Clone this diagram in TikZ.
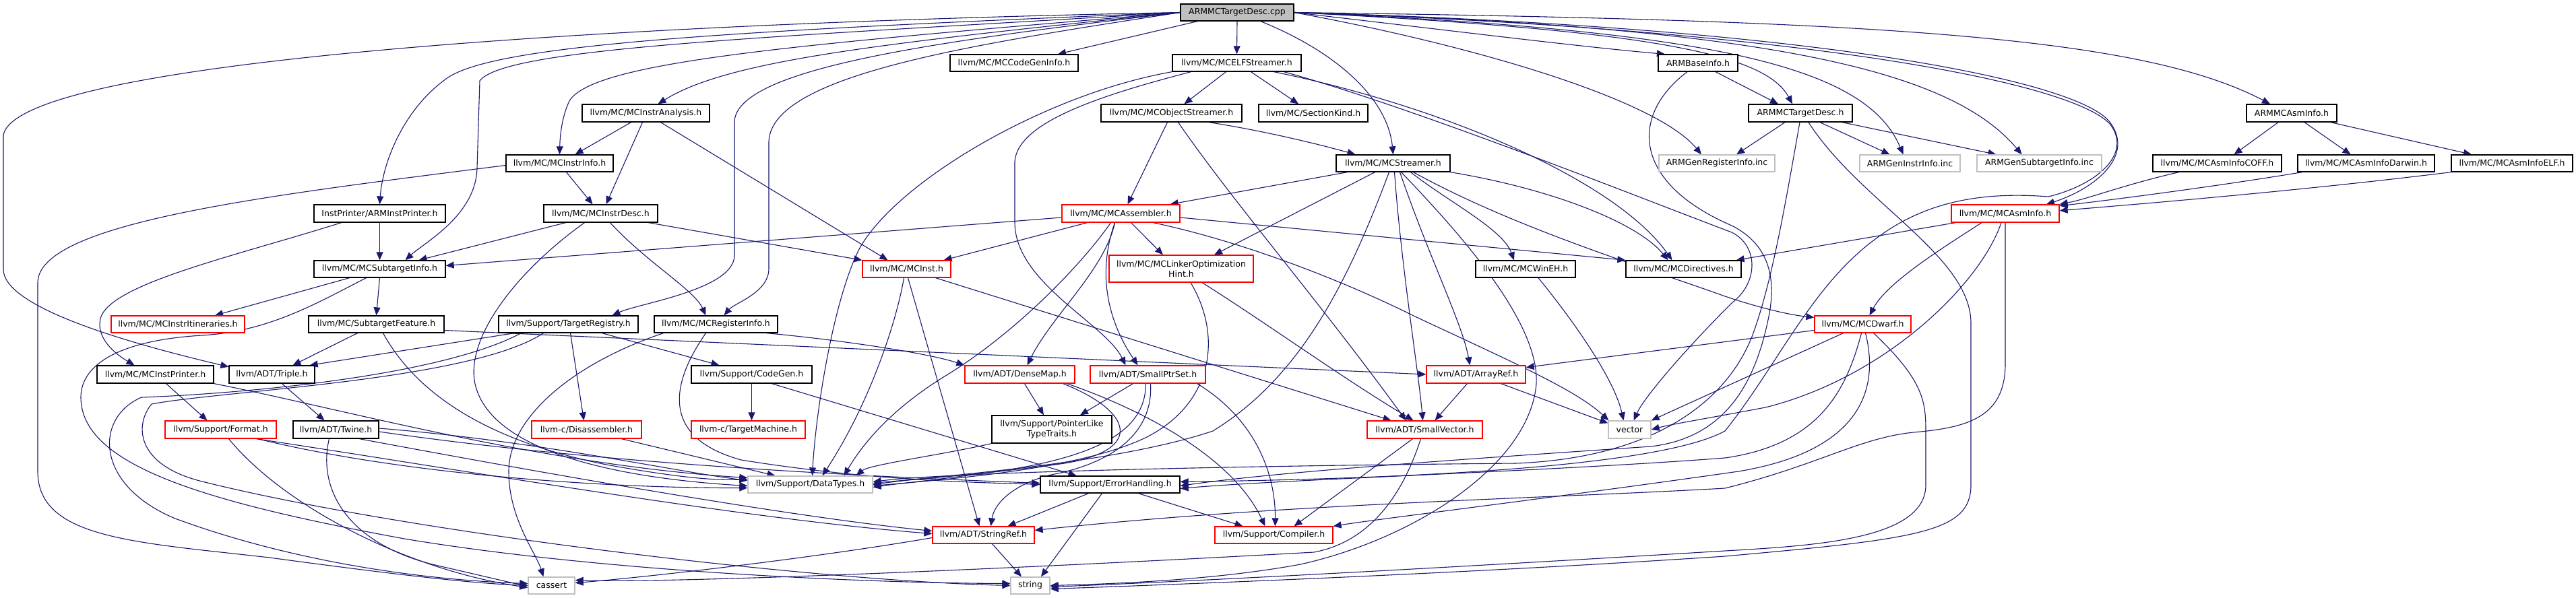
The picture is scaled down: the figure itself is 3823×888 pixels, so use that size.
\documentclass[tikz,border=0pt]{standalone}
\usepackage{fontspec}
\setmainfont{DejaVu Sans}
\usetikzlibrary{arrows.meta}
\definecolor{ec}{HTML}{191970}
\definecolor{gr}{HTML}{BFBFBF}
\definecolor{rd}{HTML}{FF0000}
\newcommand\fnt{\fontsize{12.5}{15}\selectfont}
\newcommand\bx[7]{\node[#1,minimum width={#4-#3},minimum height={#6-#5}] (#2) at ({(#3+#4)/2},{(#5+#6)/2}) {#7};}
\pgfdeclarelayer{bg}
\pgfsetlayers{bg,main}
\begin{document}
\begin{tikzpicture}[x=1pt,y=-1pt,
  nb/.style={draw=black,line width=1.3pt,fill=white,inner sep=0pt,font=\fnt,align=center},
  nr/.style={nb,draw=rd},
  ng/.style={nb,draw=gr},
  edg/.style={draw=ec,line width=1.1pt,-{Triangle[length=12pt,width=10pt]}}]
\useasboundingbox (0,0) rectangle (3823,888);
% nodes
\bx{nb,fill=gr}{cpp}{1752}{1920}{6}{31}{ARMMCTargetDesc.cpp}
\bx{nb}{codegeninfo}{1410}{1600}{81}{106}{llvm/MC/MCCodeGenInfo.h}
\bx{nb}{elfstreamer}{1740}{1931}{81}{106}{llvm/MC/MCELFStreamer.h}
\bx{nb}{armbaseinfo}{2461}{2579}{81}{106}{ARMBaseInfo.h}
\bx{nb}{instranalysis}{864}{1053}{155}{181}{llvm/MC/MCInstrAnalysis.h}
\bx{nb}{objstreamer}{1634}{1843}{155}{181}{llvm/MC/MCObjectStreamer.h}
\bx{nb}{sectionkind}{1868}{2030}{155}{181}{llvm/MC/SectionKind.h}
\bx{nb}{armtargetdesch}{2595}{2749}{155}{181}{ARMMCTargetDesc.h}
\bx{nb}{armasminfo}{3334}{3468}{155}{181}{ARMMCAsmInfo.h}
\bx{nb}{instrinfo}{751}{910}{230}{255}{llvm/MC/MCInstrInfo.h}
\bx{nb}{streamer}{1983}{2152}{230}{255}{llvm/MC/MCStreamer.h}
\bx{ng}{genreg}{2462}{2634}{230}{255}{ARMGenRegisterInfo.inc}
\bx{ng}{geninstr}{2760}{2909}{230}{255}{ARMGenInstrInfo.inc}
\bx{ng}{gensub}{2934}{3119}{230}{255}{ARMGenSubtargetInfo.inc}
\bx{nb}{coff}{3195}{3386}{230}{255}{llvm/MC/MCAsmInfoCOFF.h}
\bx{nb}{darwin}{3410}{3613}{230}{255}{llvm/MC/MCAsmInfoDarwin.h}
\bx{nb}{elf}{3638}{3818}{230}{255}{llvm/MC/MCAsmInfoELF.h}
\bx{nb}{armprinter}{466}{661}{304}{330}{InstPrinter/ARMInstPrinter.h}
\bx{nb}{instrdesc}{807}{976}{304}{330}{llvm/MC/MCInstrDesc.h}
\bx{nr}{assembler}{1576}{1751}{304}{330}{llvm/MC/MCAssembler.h}
\bx{nr}{asminfo}{2896}{3056}{304}{330}{llvm/MC/MCAsmInfo.h}
\bx{nb}{subtarget}{466}{661}{387}{412}{llvm/MC/MCSubtargetInfo.h}
\bx{nr}{inst}{1280}{1411}{387}{412}{llvm/MC/MCInst.h}
\bx{nr}{loh}{1646}{1860}{379}{419}{llvm/MC/MCLinkerOptimization\\Hint.h}
\bx{nb}{wineh}{2190}{2338}{387}{412}{llvm/MC/MCWinEH.h}
\bx{nb}{directives}{2413}{2584}{387}{412}{llvm/MC/MCDirectives.h}
\bx{nr}{itin}{165}{363}{469}{494}{llvm/MC/MCInstrItineraries.h}
\bx{nb}{subfeat}{458}{659}{469}{494}{llvm/MC/SubtargetFeature.h}
\bx{nb}{targetreg}{740}{947}{469}{494}{llvm/Support/TargetRegistry.h}
\bx{nb}{reginfo}{971}{1154}{469}{494}{llvm/MC/MCRegisterInfo.h}
\bx{nr}{dwarf}{2693}{2836}{469}{494}{llvm/MC/MCDwarf.h}
\bx{nb}{instprinter}{144}{317}{543}{569}{llvm/MC/MCInstPrinter.h}
\bx{nb}{triple}{340}{467}{543}{569}{llvm/ADT/Triple.h}
\bx{nb}{codegen}{1026}{1205}{543}{569}{llvm/Support/CodeGen.h}
\bx{nr}{densemap}{1432}{1595}{543}{569}{llvm/ADT/DenseMap.h}
\bx{nr}{smallptrset}{1618}{1789}{543}{569}{llvm/ADT/SmallPtrSet.h}
\bx{nr}{arrayref}{2117}{2264}{543}{569}{llvm/ADT/ArrayRef.h}
\bx{nr}{format}{245}{410}{625}{651}{llvm/Support/Format.h}
\bx{nb}{twine}{435}{562}{625}{651}{llvm/ADT/Twine.h}
\bx{nr}{disasm}{789}{952}{625}{651}{llvm-c/Disassembler.h}
\bx{nr}{targetmachine}{1026}{1195}{625}{651}{llvm-c/TargetMachine.h}
\bx{nb}{ptrlike}{1472}{1650}{617}{658}{llvm/Support/PointerLike\\TypeTraits.h}
\bx{nr}{smallvector}{2029}{2200}{625}{651}{llvm/ADT/SmallVector.h}
\bx{ng}{vector}{2387}{2450}{625}{651}{vector}
\bx{ng}{datatypes}{1110}{1295}{707}{732}{llvm/Support/DataTypes.h}
\bx{nb}{errorhandling}{1544}{1751}{707}{732}{llvm/Support/ErrorHandling.h}
\bx{nr}{stringref}{1384}{1535}{782}{807}{llvm/ADT/StringRef.h}
\bx{nr}{compiler}{1803}{1978}{782}{807}{llvm/Support/Compiler.h}
\bx{ng}{cassert}{784}{853}{857}{882}{cassert}
\bx{ng}{string}{1500}{1558}{857}{882}{string}
\begin{pgfonlayer}{bg}
\fill[white] (0,0) rectangle (3823,888);
% cpp
\draw[edg] (cpp.west) .. controls (900,35) and (30,90) .. (5,200) -- (5,400) .. controls (5,450) and (150,500) .. (triple.170);
\draw[edg] (cpp.west) .. controls (1100,45) and (740,65) .. (665,115) .. controls (600,160) and (568,240) .. (armprinter.north);
\draw[edg] (cpp.west) .. controls (1150,55) and (750,70) .. (712,120) -- (708,250) .. controls (706,320) and (630,360) .. ([xshift=38pt]subtarget.north);
\draw[edg] (cpp.west) .. controls (1200,65) and (880,90) .. (845,150) .. controls (833,175) and (831,205) .. (instrinfo.north);
\draw[edg] (cpp.west) .. controls (1300,65) and (1080,90) .. ([xshift=18pt]instranalysis.north);
\draw[edg] (cpp.west) .. controls (1400,60) and (1095,100) .. (1090,180) -- (1090,380) .. controls (1088,430) and (950,450) .. ([xshift=65pt]targetreg.north);
\draw[edg] (cpp.west) .. controls (1450,65) and (1145,110) .. (1141,210) -- (1141,400) .. controls (1140,435) and (1090,450) .. ([xshift=12pt]reginfo.north);
\draw[edg] ([xshift=-59pt]cpp.south) -- ([xshift=65pt]codegeninfo.north);
\draw[edg] (cpp.south) -- (elfstreamer.north);
\draw[edg] ([xshift=35pt]cpp.south) .. controls (1990,80) and (2060,150) .. (streamer.north);
\draw[edg] (cpp.east) .. controls (2150,45) and (2350,70) .. (armbaseinfo.165);
\draw[edg] (cpp.east) .. controls (2200,70) and (2460,150) .. ([xshift=-23pt]genreg.north);
\draw[edg] (cpp.east) .. controls (2450,45) and (2620,80) .. ([xshift=-12pt]armtargetdesch.north);
\draw[edg] (cpp.east) .. controls (2550,45) and (2770,100) .. ([xshift=-10pt]geninstr.north);
\draw[edg] (cpp.east) .. controls (2650,40) and (2900,110) .. ([xshift=-26pt]gensub.north);
\draw[edg] (cpp.east) .. controls (2800,30) and (3180,55) .. ([xshift=-32pt]armasminfo.north);
\draw[edg] (cpp.east) .. controls (2700,40) and (3080,120) .. (3130,180) .. controls (3170,230) and (3110,280) .. ([xshift=61pt]asminfo.north);
\draw[edg] (cpp.east) .. controls (2700,45) and (3080,125) .. (3132,185) .. controls (3165,230) and (3110,275) .. (3040,292) .. controls (2960,286) and (2870,292) .. (2790,350) .. controls (2690,420) and (2640,540) .. (2560,640) .. controls (2450,700) and (2000,712) .. ([yshift=4pt]errorhandling.east);
% ARMBaseInfo
\draw[edg] ([xshift=26pt]armbaseinfo.south) -- ([xshift=-33pt]armtargetdesch.north);
\draw[edg] ([xshift=-16pt]armbaseinfo.south) .. controls (2420,170) and (2420,270) .. (2570,335) .. controls (2630,365) and (2635,420) .. (2625,470) .. controls (2605,570) and (2560,650) .. (2450,663) .. controls (2200,680) and (1900,700) .. ([yshift=-2pt]errorhandling.east);
% ARMMCTargetDesc.h
\draw[edg] ([xshift=-23pt]armtargetdesch.south) -- ([xshift=29pt]genreg.north);
\draw[edg] ([xshift=29pt]armtargetdesch.south) -- ([xshift=-30pt]geninstr.north);
\draw[edg] ([xshift=62pt]armtargetdesch.south) -- ([xshift=-64pt]gensub.north);
\draw[edg] ([xshift=-1pt]armtargetdesch.south) .. controls (2650,300) and (2630,420) .. (2600,500) .. controls (2560,600) and (2450,680) .. (2250,688) .. controls (1800,692) and (1400,702) .. ([yshift=4pt]datatypes.east);
\draw[edg] ([xshift=12pt]armtargetdesch.south) .. controls (2760,300) and (2925,380) .. (2925,480) -- (2925,720) .. controls (2925,790) and (2850,800) .. (2560,826) .. controls (2200,850) and (1800,866) .. ([yshift=-5pt]string.east);
% ARMMCAsmInfo
\draw[edg] ([xshift=-20pt]armasminfo.south) -- ([xshift=25pt]coff.north);
\draw[edg] ([xshift=19pt]armasminfo.south) -- ([xshift=-23pt]darwin.north);
\draw[edg] ([xshift=58pt]armasminfo.south) -- ([xshift=-60pt]elf.north);
\draw[edg] ([xshift=-57pt]coff.south) .. controls (3150,275) and (3100,295) .. (asminfo.north east);
\draw[edg] ([xshift=-95pt]darwin.south) .. controls (3300,275) and (3150,295) .. (asminfo.8);
\draw[edg] (elf.south west) .. controls (3400,285) and (3150,305) .. (asminfo.3);
% MCAsmInfo
\draw[edg] ([xshift=-74pt]asminfo.south) -- ([xshift=-8pt]directives.north east);
\draw[edg] ([xshift=-35pt]asminfo.south) .. controls (2880,370) and (2800,420) .. ([xshift=10pt]dwarf.north);
\draw[edg] ([xshift=-6pt]asminfo.south) .. controls (2940,420) and (2800,560) .. (2620,605) .. controls (2530,622) and (2480,630) .. (vector.east);
\draw[edg] (asminfo.south) -- (2976,540) .. controls (2976,620) and (2920,635) .. (2840,642) .. controls (2760,650) and (2700,690) .. (2560,725) .. controls (2300,740) and (1900,748) .. ([yshift=7pt]stringref.east);
% MCELFStreamer
\draw[edg] ([xshift=-16pt]elfstreamer.south) -- ([xshift=19pt]objstreamer.north);
\draw[edg] ([xshift=21pt]elfstreamer.south) -- ([xshift=-22pt]sectionkind.north);
\draw[edg] (elfstreamer.south west) .. controls (1550,140) and (1330,270) .. (1275,370) .. controls (1235,450) and (1210,620) .. ([xshift=3pt]datatypes.north);
\draw[edg] ([xshift=-68pt]elfstreamer.south) .. controls (1640,140) and (1510,180) .. (1506,240) -- (1506,330) .. controls (1506,420) and (1640,480) .. ([xshift=-33pt]smallptrset.north);
\draw[edg] ([xshift=55pt]elfstreamer.south) .. controls (2150,160) and (2400,270) .. ([xshift=-17pt]directives.north);
\draw[edg] ([xshift=70pt]elfstreamer.south) .. controls (2100,160) and (2450,300) .. (2570,345) .. controls (2610,365) and (2610,420) .. (2570,450) .. controls (2500,520) and (2440,590) .. ([xshift=6pt]vector.north);
% MCObjectStreamer
\draw[edg] ([xshift=-6pt]objstreamer.south) -- ([xshift=10pt]assembler.north);
\draw[edg] ([xshift=56pt]objstreamer.south) .. controls (1880,195) and (1960,215) .. ([xshift=-56pt]streamer.north);
\draw[edg] ([xshift=10pt]objstreamer.south) .. controls (1830,300) and (1960,450) .. ([xshift=-28pt]smallvector.north);
% MCStreamer
\draw[edg] ([xshift=-68pt]streamer.south) -- ([xshift=-15pt]assembler.north east);
\draw[edg] ([xshift=-27pt]streamer.south) -- ([xshift=49pt]loh.north);
\draw[edg] ([xshift=-6pt]streamer.south) .. controls (2000,420) and (1930,560) .. (1800,640) .. controls (1650,690) and (1400,705) .. (datatypes.east);
\draw[edg] ([xshift=2pt]streamer.south) .. controls (2080,400) and (2105,550) .. ([xshift=-3pt]smallvector.north);
\draw[edg] ([xshift=10pt]streamer.south) .. controls (2120,380) and (2170,480) .. ([xshift=-9pt]arrayref.north);
\draw[edg] ([xshift=12pt]streamer.south) .. controls (2170,350) and (2285,480) .. (2280,570) .. controls (2270,690) and (2100,800) .. (1930,838) .. controls (1800,862) and (1650,867) .. (string.east);
\draw[edg] ([xshift=26pt]streamer.south) .. controls (2150,300) and (2230,340) .. ([xshift=-17pt]wineh.north);
\draw[edg] ([xshift=30pt]streamer.south) .. controls (2250,340) and (2450,400) .. (2560,440) .. controls (2620,460) and (2660,468) .. ([yshift=-3pt]dwarf.north west);
\draw[edg] (streamer.south east) .. controls (2300,280) and (2430,330) .. ([xshift=-23pt]directives.north);
% MCAssembler
\draw[edg] ([yshift=-6pt]assembler.west) -- ([yshift=5pt]subtarget.east);
\draw[edg] ([xshift=-50pt]assembler.south) -- ([xshift=55pt]inst.north);
\draw[edg] ([xshift=-15pt]assembler.south) .. controls (1600,400) and (1500,500) .. (1400,560) .. controls (1320,610) and (1280,660) .. ([xshift=50pt]datatypes.north);
\draw[edg] ([xshift=-9pt]assembler.south) .. controls (1640,400) and (1560,470) .. ([xshift=11pt]densemap.north);
\draw[edg] ([xshift=-9pt]assembler.south) .. controls (1630,400) and (1640,470) .. ([xshift=-15pt]smallptrset.north);
\draw[edg] ([xshift=15pt]assembler.south) -- ([xshift=-27pt]loh.north);
\draw[edg] ([xshift=48pt]assembler.south) .. controls (1850,360) and (2000,420) .. (2100,470) .. controls (2250,540) and (2340,580) .. ([xshift=1pt]vector.north west);
\draw[edg] ([yshift=-6pt]assembler.east) -- (directives.north west);
% MCLinkerOptimizationHint
\draw[edg] ([xshift=14pt]loh.south) .. controls (1815,500) and (1800,600) .. (1700,650) .. controls (1600,698) and (1400,712) .. ([yshift=-2pt]datatypes.east);
\draw[edg] ([xshift=31pt]loh.south) .. controls (1880,480) and (1990,560) .. ([xshift=-17pt]smallvector.north);
% MCInstrAnalysis
\draw[edg] ([xshift=-22pt]instranalysis.south) -- ([xshift=23pt]instrinfo.north);
\draw[edg] ([xshift=-5pt]instranalysis.south) -- ([xshift=8pt]instrdesc.north);
\draw[edg] ([xshift=22pt]instranalysis.south) -- ([xshift=-28pt]inst.north);
% MCInstrInfo
\draw[edg] ([xshift=10pt]instrinfo.south) -- ([xshift=-12pt]instrdesc.north);
\draw[edg] ([yshift=-3pt]instrinfo.west) .. controls (400,290) and (56,330) .. (56,420) -- (56,700) .. controls (56,800) and (200,805) .. (400,828) .. controls (600,855) and (700,866) .. (cassert.west);
% MCInstrDesc
\draw[edg] ([xshift=-52pt]instrdesc.south) -- ([xshift=58pt]subtarget.north);
\draw[edg] ([xshift=-24pt]instrdesc.south) .. controls (770,400) and (690,500) .. (705,570) .. controls (730,680) and (950,712) .. ([yshift=-2pt]datatypes.west);
\draw[edg] ([xshift=14pt]instrdesc.south) .. controls (960,390) and (1030,430) .. ([xshift=-15pt]reginfo.north);
\draw[edg] ([xshift=71pt]instrdesc.south) -- (inst.north west);
% ARMInstPrinter
\draw[edg] (armprinter.south) -- (subtarget.north);
\draw[edg] ([xshift=-57pt]armprinter.south) .. controls (350,380) and (170,420) .. (150,470) .. controls (140,500) and (170,525) .. ([xshift=-31pt]instprinter.north);
% MCSubtargetInfo
\draw[edg] ([xshift=-45pt]subtarget.south) -- ([xshift=55pt]itin.north);
\draw[edg] (subtarget.south) -- (subfeat.north);
\draw[edg] ([xshift=-20pt]subtarget.south) .. controls (470,450) and (400,492) .. (300,498) .. controls (180,505) and (120,540) .. (120,590) .. controls (120,690) and (300,745) .. (600,800) .. controls (900,850) and (1300,866) .. ([yshift=3pt]string.west);
% SubtargetFeature
\draw[edg] ([xshift=-28pt]subfeat.south) -- ([xshift=31pt]triple.north);
\draw[edg] ([xshift=10pt]subfeat.south) .. controls (610,570) and (700,650) .. (900,690) .. controls (1000,708) and (1060,714) .. ([yshift=8pt]datatypes.west);
\draw[edg] ([yshift=-9pt]subfeat.east) -- (arrayref.west);
% TargetRegistry
\draw[edg] ([xshift=-80pt]targetreg.south) -- ([xshift=-8pt]triple.north east);
\draw[edg] ([xshift=-70pt]targetreg.south) .. controls (650,560) and (350,585) .. (210,590) .. controls (140,620) and (140,720) .. (260,770) .. controls (450,840) and (650,862) .. ([yshift=3pt]cassert.west);
\draw[edg] ([xshift=-37pt]targetreg.south) .. controls (700,565) and (330,580) .. (225,600) .. controls (200,630) and (200,690) .. (300,715) .. controls (600,790) and (1200,862) .. (string.west);
\draw[edg] ([xshift=3pt]targetreg.south) -- ([xshift=-4pt]disasm.north);
\draw[edg] ([xshift=50pt]targetreg.south) -- ([xshift=-48pt]codegen.north);
% MCRegisterInfo
\draw[edg] ([xshift=-78pt]reginfo.south) .. controls (850,540) and (755,620) .. (755,700) .. controls (755,770) and (795,820) .. ([xshift=-12pt]cassert.north);
\draw[edg] ([xshift=-15pt]reginfo.south) .. controls (995,570) and (980,650) .. (1100,683) .. controls (1300,715) and (1450,716) .. (errorhandling.west);
\draw[edg] ([xshift=75pt]reginfo.south) .. controls (1250,505) and (1380,525) .. (densemap.north west);
% CodeGen
\draw[edg] (codegen.south) -- ([xshift=5pt]targetmachine.north);
\draw[edg] ([xshift=30pt]codegen.south) -- ([xshift=-50pt]errorhandling.north);
% Disassembler
\draw[edg] ([xshift=52pt]disasm.south) -- ([xshift=-52pt]datatypes.north);
% DenseMap
\draw[edg] ([xshift=7pt]densemap.south) -- ([xshift=-12pt]ptrlike.north);
\draw[edg] ([xshift=64pt]densemap.south) .. controls (1680,610) and (1700,668) .. (1580,688) .. controls (1450,706) and (1350,712) .. ([yshift=2pt]datatypes.east);
\draw[edg] ([xshift=70pt]densemap.south) .. controls (1700,610) and (1830,680) .. ([xshift=-13pt]compiler.north);
% SmallPtrSet
\draw[edg] ([xshift=-22pt]smallptrset.south) -- ([xshift=42pt]ptrlike.north);
\draw[edg] ([xshift=-3pt]smallptrset.south) .. controls (1700,630) and (1650,672) .. (1500,697) .. controls (1400,712) and (1340,717) .. ([yshift=-4pt]datatypes.east);
\draw[edg] ([xshift=4pt]smallptrset.south) .. controls (1712,650) and (1640,690) .. (1560,705) .. controls (1500,720) and (1475,750) .. ([xshift=11pt]stringref.north);
\draw[edg] ([xshift=73pt]smallptrset.south) .. controls (1860,620) and (1893,700) .. ([xshift=2pt]compiler.north);
% PointerLikeTypeTraits
\draw[edg] (ptrlike.south west) .. controls (1400,675) and (1290,690) .. ([xshift=68pt]datatypes.north);
% MCInst
\draw[edg] ([xshift=-4pt]inst.south) .. controls (1330,480) and (1290,600) .. ([xshift=18pt]datatypes.north);
\draw[edg] ([xshift=2pt]inst.south) -- ([xshift=-6pt]stringref.north);
\draw[edg] ([xshift=43pt]inst.south) -- ([xshift=-50pt]smallvector.north);
% StringRef
\draw[edg] ([xshift=13pt]stringref.south) -- ([xshift=-13pt]string.north);
\draw[edg] ([yshift=-4pt]stringref.west) .. controls (1200,830) and (950,858) .. ([yshift=4pt]cassert.east);
% ErrorHandling
\draw[edg] ([xshift=-32pt]errorhandling.south) -- ([xshift=36pt]stringref.north);
\draw[edg] ([xshift=-12pt]errorhandling.south) -- ([xshift=16pt]string.north);
\draw[edg] ([xshift=42pt]errorhandling.south) -- ([xshift=-46pt]compiler.north);
% Twine
\draw[edg] ([yshift=2pt]twine.east) .. controls (800,655) and (1000,700) .. ([yshift=6pt]datatypes.west);
\draw[edg] ([yshift=-3pt]twine.east) .. controls (900,690) and (1300,708) .. ([yshift=2pt]errorhandling.west);
\draw[edg] ([xshift=35pt]twine.south) .. controls (900,720) and (1200,770) .. ([yshift=6pt]stringref.west);
\draw[edg] ([xshift=-10pt]twine.south) .. controls (470,730) and (520,810) .. (650,840) .. controls (720,856) and (760,866) .. (cassert.west);
% Format
\draw[edg] ([xshift=53pt]format.south) .. controls (700,700) and (1100,770) .. ([yshift=2pt]stringref.west);
\draw[edg] ([xshift=55pt]format.south) .. controls (600,705) and (900,725) .. ([yshift=-5pt]datatypes.west);
\draw[edg] ([xshift=12pt]format.south) .. controls (420,750) and (600,845) .. ([yshift=-3pt]cassert.west);
% MCInstPrinter
\draw[edg] ([xshift=16pt]instprinter.south) -- ([xshift=-20pt]format.north);
\draw[edg] (instprinter.south east) .. controls (500,605) and (800,690) .. ([yshift=10pt]datatypes.west);
% Triple
\draw[edg] ([xshift=15pt]triple.south) -- ([xshift=-17pt]twine.north);
% ArrayRef
\draw[edg] ([xshift=-13pt]arrayref.south) -- ([xshift=15pt]smallvector.north);
\draw[edg] ([xshift=37pt]arrayref.south) -- ([yshift=-4pt]vector.north west);
% SmallVector
\draw[edg] ([xshift=-18pt]smallvector.south) -- ([xshift=30pt]compiler.north);
\draw[edg] ([xshift=-6pt]smallvector.south) .. controls (2080,740) and (2030,805) .. (1950,820) .. controls (1500,845) and (1000,866) .. ([yshift=8pt]cassert.east);
% MCWinEH
\draw[edg] ([xshift=19pt]wineh.south) .. controls (2330,470) and (2395,560) .. ([xshift=-9pt]vector.north);
% MCDwarf
\draw[edg] ([yshift=-9pt]dwarf.west) -- (arrayref.8);
\draw[edg] ([xshift=-29pt]dwarf.south) -- (vector.north east);
\draw[edg] ([xshift=-2pt]dwarf.south) .. controls (2740,580) and (2700,660) .. (2560,680) .. controls (2300,700) and (1900,712) .. ([yshift=-6pt]errorhandling.east);
\draw[edg] ([xshift=4pt]dwarf.south) .. controls (2790,580) and (2760,670) .. (2580,700) .. controls (2300,740) and (2050,770) .. (compiler.north east);
\draw[edg] ([xshift=16pt]dwarf.south) .. controls (2860,570) and (2858,600) .. (2858,650) -- (2858,720) .. controls (2858,800) and (2700,810) .. (2560,818) .. controls (2200,840) and (1800,862) .. ([yshift=-2pt]string.east);
\end{pgfonlayer}
\end{tikzpicture}
\end{document}
